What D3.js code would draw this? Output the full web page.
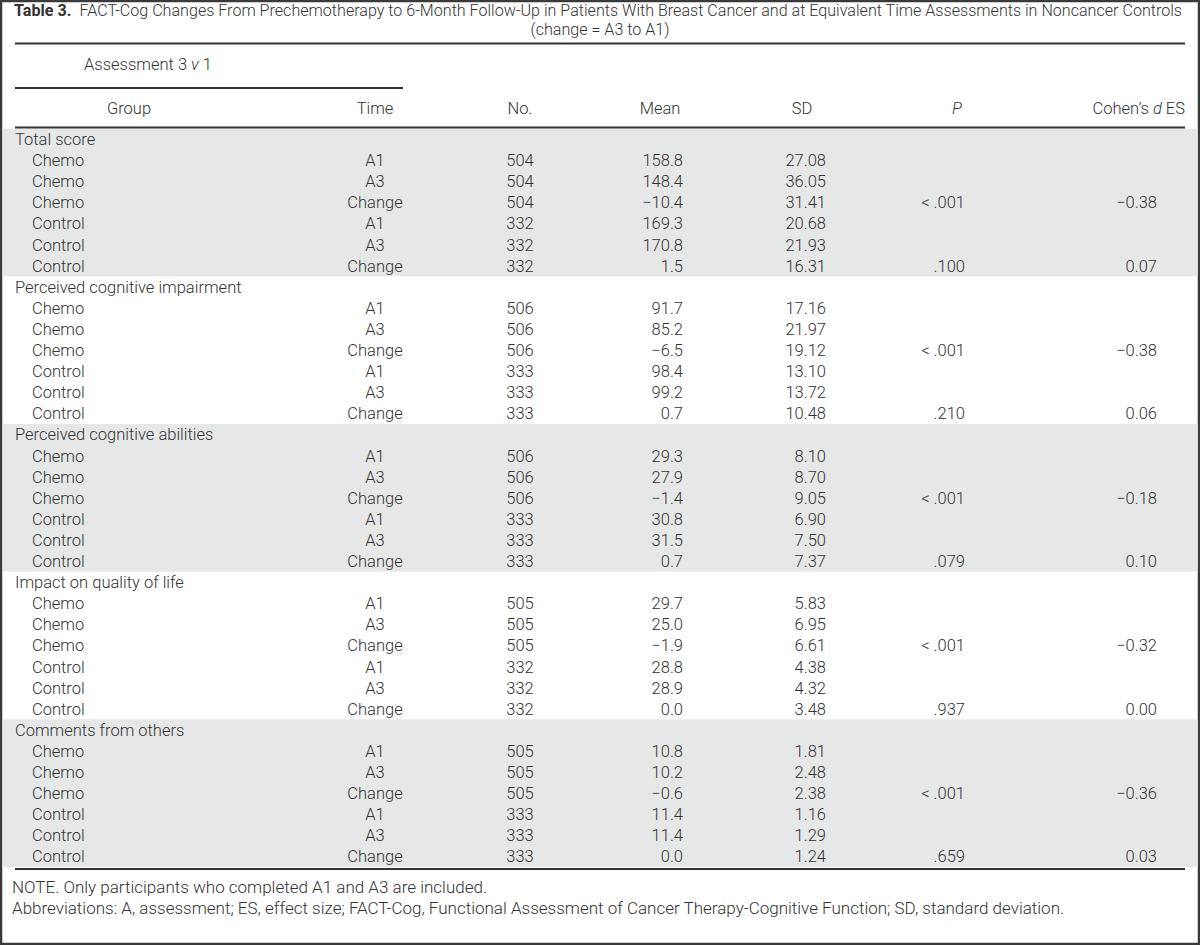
<!DOCTYPE html>
<html><head><meta charset="utf-8">
<script src="https://cdn.jsdelivr.net/npm/d3@7"></script>
<style>body{margin:0;background:#fff}</style>
</head><body><svg id="c" width="1200" height="945"></svg>
<script>
const measures = ["Total score", "Perceived cognitive impairment", "Perceived cognitive abilities", "Impact on quality of life", "Comments from others"];
const groups = ["Chemo", "Chemo", "Chemo", "Control", "Control", "Control"];
const times = ["A1", "A3", "Change", "A1", "A3", "Change"];
const nValues = [
  [504, 504, 504, 332, 332, 332],
  [506, 506, 506, 333, 333, 333],
  [506, 506, 506, 333, 333, 333],
  [505, 505, 505, 332, 332, 332],
  [505, 505, 505, 333, 333, 333]
];
const means = [
  [158.8, 148.4, -10.4, 169.3, 170.8, 1.5],
  [91.7, 85.2, -6.5, 98.4, 99.2, 0.7],
  [29.3, 27.9, -1.4, 30.8, 31.5, 0.7],
  [29.7, 25.0, -1.9, 28.8, 28.9, 0.0],
  [10.8, 10.2, -0.6, 11.4, 11.4, 0.0]
];
const sds = [
  [27.08, 36.05, 31.41, 20.68, 21.93, 16.31],
  [17.16, 21.97, 19.12, 13.10, 13.72, 10.48],
  [8.10, 8.70, 9.05, 6.90, 7.50, 7.37],
  [5.83, 6.95, 6.61, 4.38, 4.32, 3.48],
  [1.81, 2.48, 2.38, 1.16, 1.29, 1.24]
];
const pChemo = ["< .001", "< .001", "< .001", "< .001", "< .001"];
const pControl = [".100", ".210", ".079", ".937", ".659"];
const esChemo = [-0.38, -0.38, -0.18, -0.32, -0.36];
const esControl = [0.07, 0.06, 0.10, 0.00, 0.03];
const titleBold = "Table 3.";
const titleText = "FACT-Cog Changes From Prechemotherapy to 6-Month Follow-Up in Patients With Breast Cancer and at Equivalent Time Assessments in Noncancer Controls";
const subtitle = "(change = A3 to A1)";
const notes = ["NOTE. Only participants who completed A1 and A3 are included.",
  "Abbreviations: A, assessment; ES, effect size; FACT-Cog, Functional Assessment of Cancer Therapy-Cognitive Function; SD, standard deviation."];

const W = 1200, H = 945;
const FONT = "Roboto, 'Liberation Sans', Arial, sans-serif";
const FS = 16.5;
const TFS = 16.1;
const NFS = 17;
const INK = "#333";
const BAND = "#e6e7e7";
const RULE = "#333";
const svg = d3.select("#c").style("font-family", FONT).style("font-size", FS + "px").style("font-weight", 300);

svg.append("rect").attr("x", 1).attr("y", 1).attr("width", W - 2).attr("height", H - 2)
  .attr("fill", "#fff").attr("stroke", "#3a3a3a").attr("stroke-width", 2.5);

const f1 = v => (v < 0 ? "\u2212" : "") + d3.format(".1f")(Math.abs(v));
const f2 = v => (v < 0 ? "\u2212" : "") + d3.format(".2f")(Math.abs(v));

// build rows
const rows = [];
measures.forEach((m, i) => {
  rows.push({ head: true, label: m, band: i });
  groups.forEach((g, j) => rows.push({
    head: false, band: i, group: g, time: times[j], n: nValues[i][j],
    mean: means[i][j], sd: sds[i][j],
    p: j === 2 ? pChemo[i] : j === 5 ? pControl[i] : "",
    es: j === 2 ? f2(esChemo[i]) : j === 5 ? f2(esControl[i]) : ""
  }));
});

const top0 = 128.5, pitch = 21.1;
const y = d3.scaleBand().domain(d3.range(rows.length)).range([top0, top0 + rows.length * pitch]).padding(0);
const L = 15, R = 1185;
const col = { head: 15, group: 32, time: 375, n: 520, mean: 683, sd: 826, p: 965, es: 1157 };

// bands
measures.forEach((m, i) => {
  if (i % 2 === 0) {
    svg.append("rect").attr("x", 2.5).attr("width", W - 5)
      .attr("y", y(i * 7)).attr("height", y.bandwidth() * 7).attr("fill", BAND);
  }
});

// title
const t = svg.append("text").attr("x", 598).attr("y", 16).attr("text-anchor", "middle").attr("fill", INK).style("font-size", TFS + "px");
t.append("tspan").attr("font-weight", 700).attr("font-family", "'Liberation Sans Narrow', 'Roboto', sans-serif").text(titleBold);
t.append("tspan").text("\u2002" + titleText);
svg.append("text").attr("x", W / 2).attr("y", 34.5).attr("text-anchor", "middle").attr("fill", INK).style("font-size", TFS + "px").text(subtitle);

function rule(x1, x2, yy) {
  svg.append("line").attr("x1", x1).attr("x2", x2).attr("y1", yy).attr("y2", yy)
    .attr("stroke", RULE).attr("stroke-width", 1.8);
}
rule(L, R, 43.5);
rule(L, 403, 88);
rule(L, R, 127.5);
rule(L, R, top0 + rows.length * pitch + 2);

// header
const hy = 114;
const ah = svg.append("text").attr("x", 148).attr("y", 70).attr("text-anchor", "middle").attr("fill", INK);
ah.append("tspan").text("Assessment 3 ");
ah.append("tspan").attr("font-style", "italic").text("v");
ah.append("tspan").text(" 1");
const hdr = [
  { x: 129, t: "Group" },
  { x: col.time, t: "Time" },
  { x: col.n, t: "No." },
  { x: 660, t: "Mean" },
  { x: 802, t: "SD" }
];
hdr.forEach(h => svg.append("text").attr("x", h.x).attr("y", hy).attr("text-anchor", "middle").attr("fill", INK).text(h.t));
svg.append("text").attr("x", 957).attr("y", hy).attr("text-anchor", "middle").attr("fill", INK).attr("font-style", "italic").text("P");
const ch = svg.append("text").attr("x", R).attr("y", hy).attr("text-anchor", "end").attr("fill", INK);
ch.append("tspan").text("Cohen\u2019s ");
ch.append("tspan").attr("font-style", "italic").text("d");
ch.append("tspan").text(" ES");

// body
const g = svg.append("g").attr("fill", INK);
rows.forEach((r, k) => {
  const yy = y(k) + y.bandwidth() / 2 + 6;
  if (r.head) {
    g.append("text").attr("x", col.head).attr("y", yy).text(r.label);
    return;
  }
  g.append("text").attr("x", col.group).attr("y", yy).text(r.group);
  g.append("text").attr("x", col.time).attr("y", yy).attr("text-anchor", "middle").text(r.time);
  g.append("text").attr("x", col.n).attr("y", yy).attr("text-anchor", "middle").text(r.n);
  g.append("text").attr("x", col.mean).attr("y", yy).attr("text-anchor", "end").text(f1(r.mean));
  g.append("text").attr("x", col.sd).attr("y", yy).attr("text-anchor", "end").text(f2(r.sd));
  if (r.p) g.append("text").attr("x", col.p).attr("y", yy).attr("text-anchor", "end").text(r.p);
  if (r.es) g.append("text").attr("x", col.es).attr("y", yy).attr("text-anchor", "end").text(r.es);
});

// notes
const ny = top0 + rows.length * pitch + 2;
notes.forEach((n, i) => svg.append("text").attr("x", 12).attr("y", ny + 24 + i * 21).attr("fill", INK).style("font-size", NFS + "px").text(n));
</script></body></html>
